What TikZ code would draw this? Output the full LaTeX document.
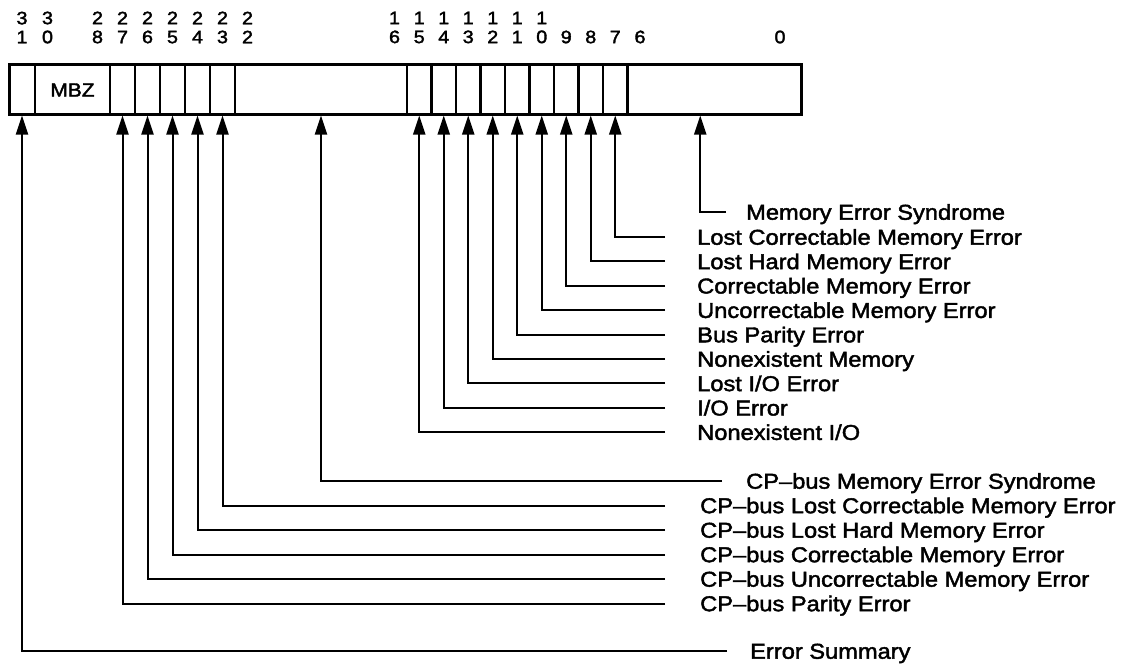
\documentclass[tikz,border=0pt]{standalone}
\usepackage{fontspec}
\setmainfont{Liberation Sans}[FakeBold=2, FakeStretch=1.1]
\usetikzlibrary{arrows.meta}
\newcommand\lblfont{\fontsize{21.5}{26}\selectfont}
\newcommand\bitfont{\fontsize{18}{19}\selectfont}

\begin{document}
\begin{tikzpicture}[x=1pt, y=-1pt,
  cell/.style={draw, line width=2.4pt, minimum height=50pt, inner sep=0pt, outer sep=1.5pt},
  sig/.style={line width=2pt, -{Triangle[length=19pt, width=12pt]}},
  lbl/.style={anchor=base west, inner sep=0pt, yshift=-7.7pt, font=\lblfont},
  bitno/.style={align=center, inner sep=0pt, font=\bitfont}]
\useasboundingbox (0,0) rectangle (1122,665);
\node[cell, minimum width=26pt] (b31) at (22,89) {};
\node[cell, minimum width=75pt, font=\fontsize{19}{20}\selectfont] (mbz) at (72.5,90) {MBZ};
\node[cell, minimum width=25pt] (b27) at (122.5,89) {};
\node[cell, minimum width=25pt] (b26) at (147.5,89) {};
\node[cell, minimum width=25pt] (b25) at (172.5,89) {};
\node[cell, minimum width=25pt] (b24) at (197.5,89) {};
\node[cell, minimum width=25pt] (b23) at (222.5,89) {};
\node[cell, minimum width=172pt] (f22) at (321,89) {};
\node[cell, minimum width=24.5pt] (b15) at (419.25,89) {};
\node[cell, minimum width=24.5pt] (b14) at (443.75,89) {};
\node[cell, minimum width=24.5pt] (b13) at (468.25,89) {};
\node[cell, minimum width=24.5pt] (b12) at (492.75,89) {};
\node[cell, minimum width=24.5pt] (b11) at (517.25,89) {};
\node[cell, minimum width=24.5pt] (b10) at (541.75,89) {};
\node[cell, minimum width=24.5pt] (b9) at (566.25,89) {};
\node[cell, minimum width=24.5pt] (b8) at (590.75,89) {};
\node[cell, minimum width=24.5pt] (b7) at (615.25,89) {};
\node[cell, minimum width=173.5pt] (f6) at (714.25,89) {};
\draw[line width=3pt] (9,64) rectangle (801,114);

\node[bitno] (n31) at (22,27.5) {3\\1};
\node[bitno] (n30) at (47.5,27.5) {3\\0};
\node[bitno] (n28) at (97.5,27.5) {2\\8};
\node[bitno] (n27) at (122.5,27.5) {2\\7};
\node[bitno] (n26) at (147.5,27.5) {2\\6};
\node[bitno] (n25) at (172.5,27.5) {2\\5};
\node[bitno] (n24) at (197.5,27.5) {2\\4};
\node[bitno] (n23) at (222.5,27.5) {2\\3};
\node[bitno] (n22) at (247.5,27.5) {2\\2};
\node[bitno] (n16) at (394.5,27.5) {1\\6};
\node[bitno] (n15) at (419.25,27.5) {1\\5};
\node[bitno] (n14) at (443.75,27.5) {1\\4};
\node[bitno] (n13) at (468.25,27.5) {1\\3};
\node[bitno] (n12) at (492.75,27.5) {1\\2};
\node[bitno] (n11) at (517.25,27.5) {1\\1};
\node[bitno] (n10) at (541.75,27.5) {1\\0};
\node[bitno] (n9) at (566.25,37) {9};
\node[bitno] (n8) at (590.75,37) {8};
\node[bitno] (n7) at (615.25,37) {7};
\node[bitno] (n6) at (640,37) {6};
\node[bitno] (n0) at (780,37) {0};

\coordinate (e6) at (726,212);
\coordinate (e7) at (665,237);
\coordinate (e8) at (665,261.4);
\coordinate (e9) at (665,285.8);
\coordinate (e10) at (665,310.2);
\coordinate (e11) at (665,334.6);
\coordinate (e12) at (665,359);
\coordinate (e13) at (665,383.4);
\coordinate (e14) at (665,407.8);
\coordinate (e15) at (665,432.2);
\coordinate (e16) at (722,481);
\coordinate (e23) at (665,505.5);
\coordinate (e24) at (665,530);
\coordinate (e25) at (665,554.5);
\coordinate (e26) at (665,579);
\coordinate (e27) at (665,603.5);
\coordinate (e31) at (727,651);

\node[lbl] (l6) at (746,212) {Memory Error Syndrome};
\node[lbl] (l7) at (697,237) {Lost Correctable Memory Error};
\node[lbl] (l8) at (697,261.4) {Lost Hard Memory Error};
\node[lbl] (l9) at (697,285.8) {Correctable Memory Error};
\node[lbl] (l10) at (697,310.2) {Uncorrectable Memory Error};
\node[lbl] (l11) at (697,334.6) {Bus Parity Error};
\node[lbl] (l12) at (697,359) {Nonexistent Memory};
\node[lbl] (l13) at (697,383.4) {Lost I/O Error};
\node[lbl] (l14) at (697,407.8) {I/O Error};
\node[lbl] (l15) at (697,432.2) {Nonexistent I/O};
\node[lbl] (l16) at (746,481) {CP–bus Memory Error Syndrome};
\node[lbl] (l23) at (700,505.5) {CP–bus Lost Correctable Memory Error};
\node[lbl] (l24) at (700,530) {CP–bus Lost Hard Memory Error};
\node[lbl] (l25) at (700,554.5) {CP–bus Correctable Memory Error};
\node[lbl] (l26) at (700,579) {CP–bus Uncorrectable Memory Error};
\node[lbl] (l27) at (700,603.5) {CP–bus Parity Error};
\node[lbl] (l31) at (750,651) {Error Summary};

\draw[sig] (e6) -| ([xshift=-14pt]f6.south);
\draw[sig] (e7) -| (b7.south);
\draw[sig] (e8) -| (b8.south);
\draw[sig] (e9) -| (b9.south);
\draw[sig] (e10) -| (b10.south);
\draw[sig] (e11) -| (b11.south);
\draw[sig] (e12) -| (b12.south);
\draw[sig] (e13) -| (b13.south);
\draw[sig] (e14) -| (b14.south);
\draw[sig] (e15) -| (b15.south);
\draw[sig] (e16) -| (f22.south);
\draw[sig] (e23) -| (b23.south);
\draw[sig] (e24) -| (b24.south);
\draw[sig] (e25) -| (b25.south);
\draw[sig] (e26) -| (b26.south);
\draw[sig] (e27) -| (b27.south);
\draw[sig] (e31) -| (b31.south);
\end{tikzpicture}
\end{document}
